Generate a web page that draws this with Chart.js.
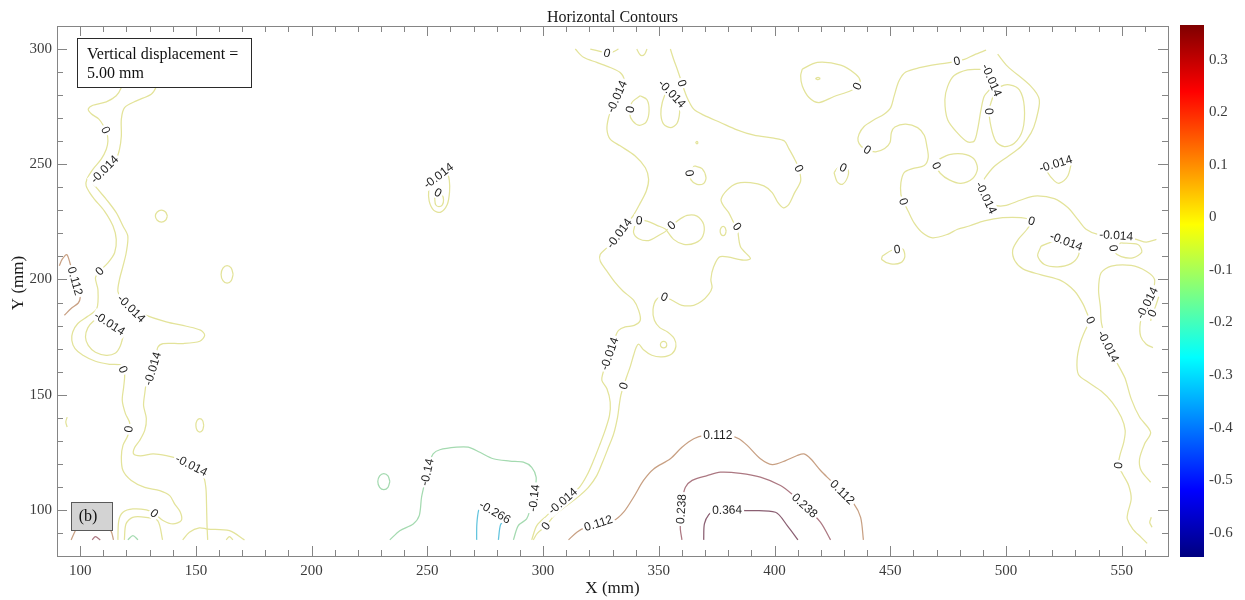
<!DOCTYPE html>
<html>
<head>
<meta charset="utf-8">
<script src="https://cdn.jsdelivr.net/npm/chart.js@4.4.1/dist/chart.umd.min.js"></script>
<style>
  html, body { margin: 0; padding: 0; background: #ffffff; }
  #wrap { position: relative; width: 1245px; height: 600px; }
  #main { position: absolute; left: 0; top: 0; width: 1245px; height: 600px; }
  #cbar { position: absolute; left: 1170px; top: 0; width: 75px; height: 600px; }
</style>
</head>
<body>
<div id="wrap">
  <canvas id="main" width="1245" height="600"></canvas>
  <canvas id="cbar" width="75" height="600"></canvas>
</div>
<script>
// ---- axis ticks (mm) ----
const xMajorTicks = [100, 150, 200, 250, 300, 350, 400, 450, 500, 550];
const yMajorTicks = [100, 150, 200, 250, 300];

// ---- colour scale (horizontal displacement, mm) ----
const cbMin = -0.646;
const cbMax = 0.366;
const cbTicks = [-0.6, -0.5, -0.4, -0.3, -0.2, -0.1, 0, 0.1, 0.2, 0.3];

// ---- contour polylines, [x mm, y mm] ----
const zeroLeft = [[122.0,295.0],[119.2,288.4],[117.8,283.3],[115.6,279.7],[111.3,277.1],[105.5,275.6],[103.5,273.9],[104.8,271.9],[108.1,269.6],[110.1,266.7],[111.0,264.8],[111.6,263.5],[112.0,260.1],[111.3,256.5],[109.1,252.2],[105.5,247.8],[102.9,243.5],[102.6,240.6],[104.1,237.7],[106.2,234.8],[110.5,229.7],[114.2,223.2],[115.6,217.4],[114.9,211.6],[112.0,207.2],[108.4,203.6],[106.6,200.7],[107.7,195.4],[107.2,187.4],[103.3,184.0],[99.0,180.9],[96.8,177.2],[96.4,173.6],[97.8,170.0],[101.2,167.1],[106.6,164.5],[112.7,163.2],[117.8,162.7],[119.2,159.1],[118.8,153.3],[118.2,147.5],[119.6,141.7],[121.4,137.7],[120.6,132.3],[118.5,128.0],[117.8,122.9],[118.5,117.1],[122.1,112.8],[127.9,109.8],[134.4,108.4],[138.7,106.2],[140.8,102.6],[143.3,99.0],[143.7,95.4],[140.1,93.9],[135.8,95.4],[132.0,98.5],[128.6,100.0],[122.8,100.4],[118.5,99.0],[116.7,95.4],[116.3,87.0]];
const negLeft = [[134.0,288.0],[132.9,283.6],[130.7,280.4],[124.3,277.5],[119.2,274.6],[117.8,269.6],[117.8,262.3],[117.0,256.5],[115.9,253.3],[110.5,247.8],[105.5,242.3],[107.7,239.1],[111.3,234.8],[115.6,229.0],[118.5,223.2],[120.6,218.8],[119.9,211.6],[118.5,205.8],[117.0,200.0],[116.3,194.9],[117.8,191.7],[122.1,187.4],[126.4,185.2],[137.2,181.6],[145.9,179.7],[152.0,178.0],[153.8,175.8],[151.7,173.2],[144.5,172.2],[135.8,172.2],[133.5,170.5],[133.0,167.0],[131.3,161.3],[128.6,154.8],[127.9,150.4],[127.4,145.3],[128.6,139.6],[127.9,134.5],[125.7,130.1],[123.5,127.0],[123.1,124.3],[126.0,123.5],[131.5,124.3],[137.2,123.6],[142.3,122.2],[148.1,119.3],[153.1,114.9],[154.3,109.8],[154.6,102.6],[154.8,93.9],[155.1,87.0]];
const negLeftLoop = [[118.5,175.0],[117.3,171.0],[115.3,168.1],[111.3,167.1],[106.6,168.4],[103.5,171.4],[102.3,175.0],[103.3,179.0],[105.8,182.0],[108.7,183.5],[112.7,180.9],[116.5,178.0],[118.5,175.0]];
const negLeftBase = [[119.1,87.0],[119.8,93.9],[122.7,96.8],[128.4,96.8],[133.5,95.4],[135.6,87.0]];
const negLeftBase2 = [[144.3,87.0],[147.2,90.3],[151.5,92.2],[155.1,91.7],[164.5,91.0],[171.0,87.0]];
const zeroLeftBase = [[163.1,87.0],[164.5,88.4],[166.0,87.0]];
const posLeftTop = [[91.0,206.0],[92.2,208.7],[94.2,210.8],[95.5,207.5],[97.8,199.3],[99.5,194.5],[100.0,192.0],[99.2,189.8],[96.1,187.4],[93.2,184.5]];
const posLeftBase = [[96.1,87.0],[97.6,90.3],[100.0,95.0],[105.0,97.0],[110.0,95.0],[113.4,90.7],[114.4,87.0]];
const pos2LeftBase = [[105.2,87.0],[106.6,88.4],[108.7,87.0]];
const green1LeftBase = [[120.6,87.0],[122.8,88.8],[125.0,87.0]];
const zeroRingA = [[137.7,227.5],[136.9,229.3],[135.1,230.1],[133.3,229.3],[132.5,227.5],[133.3,225.7],[135.1,224.9],[136.9,225.7],[137.7,227.5]];
const zeroRingB = [[166.1,202.2],[165.3,204.9],[163.5,206.0],[161.7,204.9],[160.9,202.2],[161.7,199.5],[163.5,198.4],[165.3,199.5],[166.1,202.2]];
const zeroRingC = [[153.4,136.7],[152.9,138.8],[151.7,139.6],[150.5,138.8],[150.0,136.7],[150.5,134.6],[151.7,133.8],[152.9,134.6],[153.4,136.7]];
const zeroEdgeArc = [[94.4,140.3],[93.8,138.1],[94.4,136.0]];
const greenRing = [[233.8,112.3],[233.0,114.8],[231.2,115.8],[229.4,114.8],[228.6,112.3],[229.4,109.8],[231.2,108.8],[233.0,109.8],[233.8,112.3]];
const negIsland = [[258.5,247.5],[259.5,243.0],[259.6,238.0],[258.6,232.5],[255.8,229.2],[252.8,230.0],[250.8,234.0],[250.6,239.0],[251.5,242.5],[254.8,245.0],[258.5,247.5]];
const zeroIsland = [[253.2,234.8],[253.6,232.4],[255.0,231.6],[256.5,232.4],[257.0,234.6],[256.3,236.8],[254.6,237.7],[253.4,236.6],[253.2,234.8]];
const negMid = [[313.9,300.0],[317.5,296.4],[323.2,294.2],[329.0,292.0],[333.3,289.8],[335.0,286.5],[333.5,283.0],[331.9,279.4],[329.8,274.5],[328.3,270.3],[327.6,265.2],[329.0,260.9],[333.3,258.0],[339.8,253.6],[344.2,248.5],[345.6,243.5],[344.6,238.4],[341.7,232.6],[338.8,227.5],[335.5,223.5],[332.9,220.0],[330.0,216.5],[327.6,213.8],[324.7,210.9],[324.7,208.0],[327.6,203.6],[331.2,198.6],[334.5,195.0],[339.1,191.0],[341.3,186.6],[342.0,182.3],[339.4,180.1],[335.5,179.4],[332.6,177.9],[331.2,175.1],[330.0,171.5],[328.7,167.8],[327.2,163.5],[325.8,159.1],[325.4,156.2],[327.6,152.6],[329.0,146.8],[328.7,141.0],[326.8,134.5],[324.4,128.0],[321.8,121.4],[318.9,114.9],[315.7,109.8],[312.0,106.8],[308.5,103.8],[305.0,100.8],[301.6,97.5],[297.3,93.2],[295.1,87.0]];
const zeroMid = [[355.0,300.0],[356.4,295.6],[358.2,290.6],[360.0,285.2],[362.2,279.0],[365.1,273.9],[369.4,271.3],[376.6,268.1],[383.8,264.9],[391.1,262.6],[399.7,261.3],[404.3,260.1],[406.2,256.8],[408.7,252.2],[410.5,248.1],[411.3,242.8],[408.7,237.7],[406.2,232.6],[403.8,231.1],[401.5,233.3],[399.0,237.7],[395.4,240.6],[389.6,242.0],[383.8,241.7],[379.5,238.8],[376.9,234.8],[377.8,232.2],[380.2,229.0],[382.4,224.6],[383.8,222.9],[385.3,214.2],[389.6,209.1],[386.7,208.4],[376.6,209.9],[373.7,205.5],[372.5,200.0],[373.0,196.5],[371.5,193.5],[368.5,190.5],[365.1,188.8],[360.0,188.8],[355.7,191.0],[352.4,192.4],[349.0,191.3],[347.5,186.9],[348.1,182.3],[350.4,179.1],[353.8,177.2],[356.7,174.3],[357.4,171.0],[355.7,167.8],[351.4,166.4],[347.0,167.1],[343.4,169.5],[341.4,171.9],[340.3,170.7],[339.1,167.1],[337.7,162.3],[336.2,158.0],[334.8,153.8],[333.6,149.7],[333.0,146.1],[332.2,140.3],[330.5,133.0],[328.0,126.5],[325.7,120.7],[323.2,114.9],[319.6,109.8],[315.3,105.8],[310.2,101.9],[305.2,98.0],[301.2,93.0],[297.5,89.8],[295.8,87.0]];
const zeroTop = [[320.4,300.0],[325.4,298.8],[327.6,298.2],[330.2,298.8],[332.6,300.0]];
const zeroTopDip = [[340.5,300.0],[341.7,297.8],[342.7,297.1],[343.9,297.8],[344.9,300.0]];
const zeroPocketA = [[342.0,279.7],[344.9,278.0],[345.8,273.2],[344.6,268.4],[341.6,266.9],[338.7,268.8],[337.4,272.2],[338.4,276.8],[342.0,279.7]];
const negPocketB = [[353.3,281.9],[351.5,276.8],[350.9,271.7],[352.1,267.4],[355.3,265.9],[357.9,267.8],[359.0,272.5],[358.6,276.1],[357.6,278.6],[355.7,280.6],[353.3,281.9]];
const zeroLobeL = [[339.8,223.9],[339.1,220.3],[341.3,217.7],[345.6,216.9],[349.9,219.1],[353.3,221.4],[349.2,223.5],[344.9,225.3],[341.5,225.6],[339.8,223.9]];
const zeroLobeR = [[353.3,221.4],[357.9,225.3],[362.2,227.8],[366.5,227.5],[369.4,223.9],[369.0,218.8],[365.8,215.9],[360.8,215.2],[356.4,217.4],[353.3,221.4]];
const zeroPocketC = [[365.4,249.3],[368.7,248.1],[370.4,244.2],[369.4,241.7],[366.5,241.3],[363.9,243.2],[363.4,246.5],[365.4,249.3]];
const zeroSpeck = [[367.0,259.4],[366.5,259.9],[366.0,259.4],[366.5,258.9],[367.0,259.4]];
const zeroRingD = [[379.1,221.0],[378.7,222.4],[377.8,223.0],[376.9,222.4],[376.5,221.0],[376.9,219.6],[377.8,219.0],[378.7,219.6],[379.1,221.0]];
const zeroRingE = [[353.5,171.7],[353.1,172.7],[352.1,173.1],[351.1,172.7],[350.7,171.7],[351.1,170.7],[352.1,170.3],[353.1,170.7],[353.5,171.7]];
const zeroPocketD = [[412.0,291.3],[418.5,294.2],[428.6,293.0],[435.1,289.1],[437.0,286.2],[435.8,283.8],[432.9,281.9],[425.7,279.4],[419.2,276.8],[414.9,279.0],[412.0,284.0],[411.3,288.4],[412.0,291.3]];
const zeroSpeckD = [[419.8,287.2],[418.8,287.7],[417.8,287.2],[418.8,286.7],[419.8,287.2]];
const zeroPocketE = [[425.7,246.4],[427.1,242.3],[429.3,241.3],[431.5,244.2],[431.8,247.5],[429.7,248.5],[427.3,248.3],[425.7,246.4]];
const zeroRight = [[491.4,299.5],[486.3,297.5],[482.0,295.5],[478.8,294.8],[474.8,294.0],[468.0,293.0],[463.2,292.0],[456.7,290.0],[453.8,286.2],[451.7,279.7],[450.2,274.6],[447.3,271.7],[443.0,269.3],[438.7,266.4],[436.5,263.0],[436.1,260.1],[437.5,257.7],[440.1,256.2],[443.7,255.4],[447.6,256.8],[449.9,259.4],[450.5,263.8],[452.0,266.2],[456.7,267.4],[461.8,265.9],[464.7,262.6],[465.8,258.0],[466.4,252.9],[464.7,249.5],[459.6,248.1],[456.0,246.4],[454.6,242.0],[454.6,236.9],[455.7,233.8],[457.7,229.7],[460.3,224.6],[463.9,220.3],[468.3,218.1],[474.8,219.6],[479.1,221.8],[484.1,223.2],[490.6,225.4],[498.6,226.8],[506.5,226.8],[511.1,225.4],[509.1,221.8],[505.3,217.4],[502.9,212.8],[503.9,208.0],[507.5,204.5],[515.2,202.0],[523.8,199.5],[529.6,195.0],[533.2,189.5],[535.4,184.5],[536.5,182.3],[534.2,177.9],[532.0,172.2],[530.7,164.9],[531.3,158.8],[535.4,155.5],[541.1,151.6],[545.8,146.8],[549.8,140.3],[551.5,134.5],[550.9,129.4],[549.2,123.6],[548.6,119.3],[550.5,115.4],[553.0,110.6],[554.1,104.8],[552.7,99.0],[552.4,96.1],[554.8,91.7],[558.4,88.1],[561.0,85.5]];
const negTallLoop = [[489.2,291.2],[492.5,289.5],[493.8,286.5],[493.3,283.0],[490.6,279.5],[489.2,273.6],[487.7,264.9],[486.3,260.1],[483.4,259.7],[479.1,263.5],[474.8,269.3],[473.6,278.0],[474.8,283.8],[477.6,288.5],[483.4,291.0],[489.2,291.2]];
const zeroTallLoop = [[494.9,280.9],[497.8,283.8],[501.5,284.5],[505.8,282.3],[507.9,275.1],[507.2,264.9],[503.6,259.1],[499.3,257.7],[495.7,259.8],[493.5,266.4],[492.8,273.6],[494.9,280.9]];
const negRightOuter = [[496.4,297.8],[500.7,292.5],[510.8,283.8],[514.4,278.0],[513.0,269.3],[510.8,263.5],[506.5,257.7],[500.7,253.3],[494.9,249.0],[490.5,243.5],[489.0,240.5],[491.4,235.5],[494.5,232.5],[499.3,232.0],[506.5,234.5],[512.3,236.2],[520.9,235.1],[526.7,231.2],[531.0,226.1],[534.6,221.8],[539.7,219.6],[547.6,219.1],[556.3,217.4],[560.6,216.2],[565.0,217.4]];
const zeroPocketF = [[471.1,252.2],[475.5,254.2],[481.2,254.5],[486.0,252.5],[487.7,248.1],[485.6,243.8],[480.5,241.7],[475.5,243.2],[471.6,246.1],[469.9,249.4],[471.1,252.2]];
const negPocketG = [[528.4,251.4],[526.7,244.9],[523.1,241.8],[520.9,242.8],[518.0,246.4],[517.5,249.0],[521.5,250.2],[525.0,251.3],[528.4,251.4]];
const negPocketH = [[515.2,214.5],[513.7,210.2],[516.6,206.5],[522.4,205.5],[528.1,206.9],[531.3,210.4],[531.3,214.5],[526.0,216.5],[520.0,216.3],[515.2,214.5]];
const zeroPocketI = [[549.8,215.9],[557.0,215.2],[558.7,211.9],[554.8,209.4],[549.8,209.9],[546.9,211.9],[546.6,213.8],[549.8,215.9]];
const zeroPocketJ = [[446.6,210.2],[450.9,212.8],[455.3,213.3],[456.3,209.9],[454.6,207.3],[450.2,206.8],[446.3,208.7],[446.6,210.2]];
const negRight = [[562.5,112.0],[558.4,117.1],[557.7,122.1],[559.9,128.7],[562.5,133.7],[557.7,140.3],[554.1,148.2],[551.5,157.0],[549.5,161.0],[547.0,165.5],[544.2,171.0],[541.3,180.8],[540.8,188.1],[540.0,195.6],[541.1,202.9],[545.5,205.8],[554.1,206.1],[560.6,203.6],[564.2,200.0],[563.1,193.9],[561.0,189.8],[559.5,185.5],[558.0,181.0],[558.2,175.3],[560.6,171.9],[563.5,170.4]];
const zeroRightEdge = [[566.0,192.5],[564.5,188.0],[563.2,185.3],[562.5,182.0]];
const zeroRightTiny = [[562.8,96.8],[562.1,94.6],[563.1,92.5]];
const pos112 = [[311.0,87.0],[314.6,90.3],[318.5,92.5],[323.9,94.2],[330.5,95.4],[334.8,99.0],[339.1,105.5],[343.4,112.8],[347.8,117.8],[355.0,122.2],[360.0,127.2],[365.1,130.9],[370.0,132.3],[375.5,132.3],[381.0,132.0],[384.6,130.9],[388.2,128.0],[393.9,122.2],[399.0,119.7],[404.8,121.4],[409.8,123.6],[412.7,124.3],[415.6,122.2],[419.9,117.1],[424.2,112.8],[429.3,107.7],[434.3,102.6],[437.2,96.8],[438.4,87.0]];
const pos238 = [[360.0,87.0],[359.3,91.7],[359.4,96.0],[359.7,100.4],[360.3,105.0],[361.5,109.8],[364.4,112.8],[370.9,114.9],[376.6,116.4],[385.3,115.9],[393.9,114.2],[402.6,110.6],[408.0,106.5],[413.0,101.9],[419.9,94.6],[424.2,87.0]];
const pos364 = [[369.4,87.0],[369.7,93.9],[371.6,98.0],[374.5,99.9],[379.5,100.0],[387.4,99.7],[400.4,99.0],[405.5,93.2],[410.1,87.0]];
const neg140 = [[233.8,87.0],[238.1,91.0],[243.9,93.9],[246.5,97.5],[247.5,105.5],[248.7,111.0],[249.9,116.4],[251.0,120.5],[252.5,124.3],[255.4,126.1],[262.6,127.2],[267.7,127.2],[272.7,125.0],[278.5,122.2],[285.7,121.2],[291.5,120.7],[295.1,118.5],[297.0,114.2],[296.6,109.5],[296.1,105.2],[294.5,100.5],[292.9,96.1],[289.3,93.2],[287.2,87.0]];
const neg266 = [[271.3,87.0],[271.4,93.9],[272.2,100.0],[273.5,102.3],[279.2,99.0],[283.5,96.3],[281.6,93.5],[280.7,87.0]];

// level of each polyline
const contourLines = [
  ['0', zeroLeft], ['-0.014', negLeft], ['-0.014', negLeftLoop], ['-0.014', negLeftBase],
  ['-0.014', negLeftBase2], ['0', zeroLeftBase], ['0.112', posLeftTop], ['0.112', posLeftBase],
  ['0.238', pos2LeftBase], ['-0.14', green1LeftBase], ['0', zeroRingA], ['0', zeroRingB],
  ['0', zeroRingC], ['0', zeroEdgeArc], ['-0.14', greenRing], ['-0.014', negIsland],
  ['0', zeroIsland], ['-0.014', negMid], ['0', zeroMid], ['0', zeroTop], ['0', zeroTopDip],
  ['0', zeroPocketA], ['-0.014', negPocketB], ['0', zeroLobeL], ['0', zeroLobeR],
  ['0', zeroPocketC], ['0', zeroSpeck], ['0', zeroRingD], ['0', zeroRingE], ['0', zeroPocketD],
  ['0', zeroSpeckD], ['0', zeroPocketE], ['0', zeroRight], ['-0.014', negTallLoop],
  ['0', zeroTallLoop], ['-0.014', negRightOuter], ['0', zeroPocketF], ['-0.014', negPocketG],
  ['-0.014', negPocketH], ['0', zeroPocketI], ['0', zeroPocketJ], ['-0.014', negRight],
  ['0', zeroRightEdge], ['0', zeroRightTiny], ['0.112', pos112], ['0.238', pos238],
  ['0.364', pos364], ['-0.14', neg140], ['-0.266', neg266]
];

// inline contour labels [x mm, y mm, level]
const contourLabels = [
  [111.0,264.8,'0'],[108.4,203.6,'0'],[118.5,160.9,'0'],[121.0,135.0,'0'],[132.0,98.5,'0'],
  [110.5,247.8,'-0.014'],[122.1,187.4,'-0.014'],[131.3,161.3,'-0.014'],[148.1,119.3,'-0.014'],[112.7,180.9,'-0.014'],
  [97.8,199.3,'0.112'],
  [254.8,245.0,'-0.014'],[254.6,237.7,'0'],
  [331.9,279.4,'-0.014'],[332.9,220.0,'-0.014'],[328.7,167.8,'-0.014'],[308.5,103.8,'-0.014'],
  [360.0,285.2,'0'],[410.5,248.1,'0'],[383.8,222.9,'0'],[352.4,192.4,'0'],[334.8,153.8,'0'],[301.2,93.0,'0'],
  [327.6,298.2,'0'],[337.7,273.8,'0'],[355.7,280.6,'-0.014'],
  [341.5,225.6,'0'],[355.5,223.4,'0'],[363.5,246.2,'0'],[435.8,283.8,'0'],[429.7,248.5,'0'],
  [478.8,294.8,'0'],[440.1,256.2,'0'],[455.7,233.8,'0'],[511.1,225.4,'0'],[536.5,182.3,'0'],[548.6,119.3,'0'],
  [493.8,286.5,'-0.014'],[492.9,273.0,'0'],
  [491.4,235.5,'-0.014'],[547.6,219.1,'-0.014'],
  [469.9,249.4,'0'],[521.5,250.2,'-0.014'],[526.0,216.5,'-0.014'],
  [546.7,213.6,'0'],[453.0,213.1,'0'],
  [544.2,171.0,'-0.014'],[561.0,189.8,'-0.014'],[563.2,185.3,'0'],
  [323.9,94.2,'0.112'],[375.5,132.3,'0.112'],[429.3,107.7,'0.112'],
  [359.7,100.4,'0.238'],[413.0,101.9,'0.238'],
  [379.5,100.0,'0.364'],
  [249.9,116.4,'-0.14'],[296.1,105.2,'-0.14'],
  [279.2,99.0,'-0.266']
];

const SERIF = '"Liberation Serif", "Times New Roman", serif';
const SANS = '"Liberation Sans", Arial, sans-serif';

const lineColors = {
  '-0.266': '#62c4de',
  '-0.14': '#a4dab0',
  '-0.014': '#e3e39a',
  '0': '#e3e39a',
  '0.112': '#c8a083',
  '0.238': '#ac7882',
  '0.364': '#8a5f72'
};

// jet colour map stops, bottom (0) to top (1)
const jetStops = [[0, '#00007f'], [0.125, '#0000ff'], [0.375, '#00ffff'], [0.625, '#ffff00'], [0.875, '#ff0000'], [1, '#7f0000']];

function segDist(px, py, ax, ay, bx, by) {
  const dx = bx - ax, dy = by - ay;
  const L = dx * dx + dy * dy;
  let t = L ? ((px - ax) * dx + (py - ay) * dy) / L : 0;
  t = Math.max(0, Math.min(1, t));
  const qx = ax + t * dx - px, qy = ay + t * dy - py;
  return Math.sqrt(qx * qx + qy * qy);
}

// labels follow the direction of the contour they sit on
const contourLabelPlugin = {
  id: 'contourLabels',
  afterDatasetsDraw(chart) {
    const { ctx, scales } = chart;
    ctx.save();
    ctx.font = '12px ' + SANS;
    ctx.textAlign = 'center';
    ctx.textBaseline = 'middle';
    contourLabels.forEach(([x, y, lvl]) => {
      const px = scales.x.getPixelForValue(x);
      const py = scales.y.getPixelForValue(y);
      let best = Infinity, ang = 0;
      chart.data.datasets.forEach((ds, i) => {
        if (ds.level !== lvl) return;
        const pts = chart.getDatasetMeta(i).data;
        for (let k = 0; k < pts.length - 1; k++) {
          const a = pts[k], b = pts[k + 1];
          const d = segDist(px, py, a.x, a.y, b.x, b.y);
          if (d < best) { best = d; ang = Math.atan2(b.y - a.y, b.x - a.x); }
        }
      });
      let deg = ang * 180 / Math.PI;
      if (deg > 80) deg -= 180;
      if (deg <= -100) deg += 180;
      ctx.save();
      ctx.translate(px, py);
      ctx.rotate(deg * Math.PI / 180);
      const w = ctx.measureText(lvl).width;
      ctx.fillStyle = '#ffffff';
      ctx.fillRect(-w / 2 - 2, -6, w + 4, 12);
      ctx.fillStyle = '#1e1e1e';
      ctx.fillText(lvl, 0, 0.5);
      ctx.restore();
    });
    ctx.restore();
  }
};

// frame, inward ticks, titles and the two annotation boxes
const decorPlugin = {
  id: 'decor',
  afterDraw(chart) {
    const { ctx, chartArea: a, scales } = chart;
    const sx = scales.x, sy = scales.y;
    ctx.save();
    ctx.strokeStyle = '#858585';
    ctx.lineWidth = 1;
    ctx.strokeRect(a.left + 0.5, a.top + 0.5, a.right - a.left, a.bottom - a.top);

    ctx.beginPath();
    for (let v = Math.ceil(sx.min / 10) * 10; v <= sx.max; v += 10) {
      const len = xMajorTicks.includes(v) ? 10 : 6;
      const p = Math.round(sx.getPixelForValue(v)) + 0.5;
      ctx.moveTo(p, a.bottom); ctx.lineTo(p, a.bottom - len);
      ctx.moveTo(p, a.top); ctx.lineTo(p, a.top + len);
    }
    for (let v = Math.ceil(sy.min / 10) * 10; v <= sy.max; v += 10) {
      const len = yMajorTicks.includes(v) ? 10 : 6;
      const p = Math.round(sy.getPixelForValue(v)) + 0.5;
      ctx.moveTo(a.left, p); ctx.lineTo(a.left + len, p);
      ctx.moveTo(a.right, p); ctx.lineTo(a.right - len, p);
    }
    ctx.stroke();

    // title and axis names
    ctx.fillStyle = '#1a1a1a';
    ctx.textAlign = 'center';
    ctx.textBaseline = 'alphabetic';
    ctx.font = '16px ' + SERIF;
    ctx.fillText('Horizontal Contours', (a.left + a.right) / 2, a.top - 4);
    ctx.font = '17px ' + SERIF;
    ctx.textBaseline = 'middle';
    ctx.fillText('X (mm)', (a.left + a.right) / 2, a.bottom + 33);
    ctx.save();
    ctx.translate(19, 283);
    ctx.rotate(-Math.PI / 2);
    ctx.fillText('Y (mm)', 0, 0);
    ctx.restore();

    // displacement note
    ctx.fillStyle = '#ffffff';
    ctx.fillRect(a.left + 20, a.top + 12, 174, 49);
    ctx.strokeStyle = '#2a2a2a';
    ctx.strokeRect(a.left + 20.5, a.top + 12.5, 174, 49);
    ctx.fillStyle = '#111111';
    ctx.font = '16px ' + SERIF;
    ctx.textAlign = 'left';
    ctx.textBaseline = 'alphabetic';
    ctx.fillText('Vertical displacement =', a.left + 30, a.top + 33);
    ctx.fillText('5.00 mm', a.left + 30, a.top + 52);

    // panel tag
    ctx.fillStyle = '#d3d3d3';
    ctx.fillRect(a.left + 14, a.bottom - 54, 41, 28);
    ctx.strokeStyle = '#5a5a5a';
    ctx.strokeRect(a.left + 14.5, a.bottom - 53.5, 41, 28);
    ctx.fillStyle = '#111111';
    ctx.textAlign = 'center';
    ctx.textBaseline = 'middle';
    ctx.fillText('(b)', a.left + 31, a.bottom - 39);
    ctx.restore();
  }
};

const datasets = contourLines.map(([lvl, pts]) => ({
  level: lvl,
  data: pts.map(([x, y]) => ({ x, y })),
  showLine: true,
  pointRadius: 0,
  pointHoverRadius: 0,
  borderWidth: 1.25,
  borderColor: lineColors[lvl],
  backgroundColor: lineColors[lvl],
  tension: 0.3,
  fill: false
}));

new Chart(document.getElementById('main'), {
  type: 'scatter',
  data: { datasets },
  options: {
    responsive: false,
    animation: false,
    devicePixelRatio: 1,
    events: [],
    layout: { padding: { left: 0, top: 26, right: 77, bottom: 0 } },
    plugins: { legend: { display: false }, tooltip: { enabled: false }, title: { display: false } },
    scales: {
      x: {
        type: 'linear', min: 90, max: 570, position: 'bottom',
        afterBuildTicks: s => { s.ticks = xMajorTicks.map(v => ({ value: v })); },
        afterFit: s => { s.height = 44; },
        grid: { display: false, drawTicks: false },
        border: { display: false },
        ticks: { font: { family: SERIF, size: 15 }, color: '#3c3c3c', padding: 6, maxRotation: 0, autoSkip: false }
      },
      y: {
        type: 'linear', min: 80, max: 310, position: 'left',
        afterBuildTicks: s => { s.ticks = yMajorTicks.map(v => ({ value: v })); },
        afterFit: s => { s.width = 57; },
        grid: { display: false, drawTicks: false },
        border: { display: false },
        ticks: { font: { family: SERIF, size: 15 }, color: '#3c3c3c', padding: 5, autoSkip: false }
      }
    }
  },
  plugins: [contourLabelPlugin, decorPlugin]
});

// colour bar
new Chart(document.getElementById('cbar'), {
  type: 'bar',
  data: {
    labels: [''],
    datasets: [{
      data: [[cbMin, cbMax]],
      borderWidth: 0,
      barPercentage: 1,
      categoryPercentage: 1,
      backgroundColor: (c) => {
        const ch = c.chart;
        if (!ch.chartArea) return '#ffff00';
        const ys = ch.scales.y;
        const g = ch.ctx.createLinearGradient(0, ys.getPixelForValue(cbMin), 0, ys.getPixelForValue(cbMax));
        jetStops.forEach(([t, col]) => g.addColorStop(t, col));
        return g;
      }
    }]
  },
  options: {
    responsive: false,
    animation: false,
    devicePixelRatio: 1,
    events: [],
    layout: { padding: { left: 10, top: 25, bottom: 43, right: 0 } },
    plugins: { legend: { display: false }, tooltip: { enabled: false } },
    scales: {
      x: { display: false },
      y: {
        position: 'right', min: cbMin, max: cbMax,
        afterBuildTicks: s => { s.ticks = cbTicks.map(v => ({ value: v })); },
        afterFit: s => { s.width = 41; },
        grid: { display: false, drawTicks: false },
        border: { display: false },
        ticks: { font: { family: SERIF, size: 15 }, color: '#3c3c3c', padding: 5, callback: v => String(v) }
      }
    }
  }
});
</script>
</body>
</html>
